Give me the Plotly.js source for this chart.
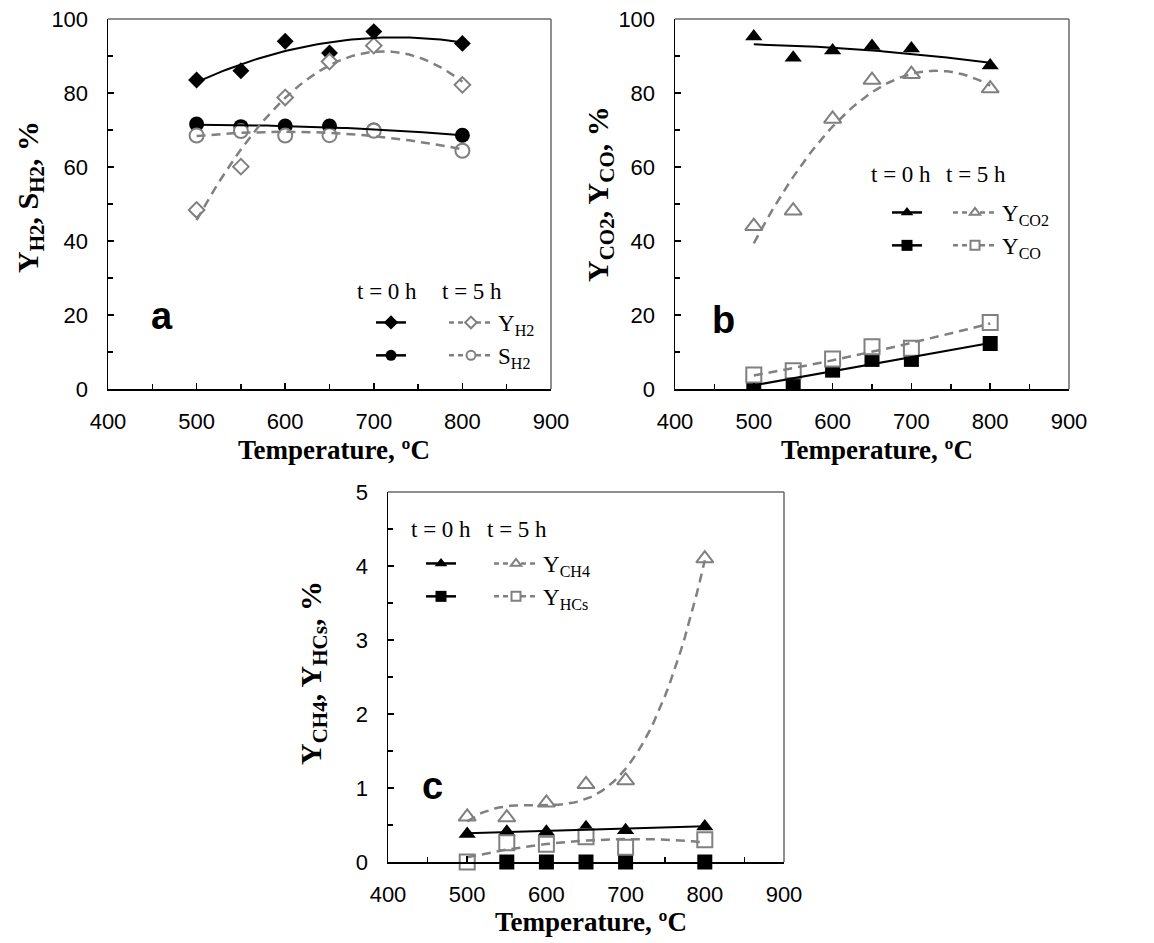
<!DOCTYPE html>
<html>
<head>
<meta charset="utf-8">
<script src="https://cdn.plot.ly/plotly-3.0.1.min.js"></script>
<style>html,body{margin:0;padding:0;background:#fff;}#chart{width:1154px;height:943px;}</style>
</head>
<body>
<div id="chart"></div>
<script>
// ---------------- data ----------------
const temps = [500, 550, 600, 650, 700, 800];
// panel a
const yH2_t0 = [83.5, 86.0, 94.0, 90.8, 96.6, 93.4];
const yH2_t5 = [48.4, 60.1, 78.8, 88.5, 92.8, 82.2];
const sH2_t0 = [71.6, 70.9, 71.1, 71.1, 70.0, 68.6];
const sH2_t5 = [68.5, 69.7, 68.5, 68.6, 69.8, 64.4];
// panel b
const yCO2_t0 = [95.3, 89.5, 91.5, 92.7, 92.0, 87.4];
const yCO2_t5 = [44.0, 48.2, 73.0, 83.5, 85.1, 81.2];
const yCO_t0 = [1.5, 1.5, 5.1, 8.0, 8.0, 12.3];
const yCO_t5 = [3.8, 4.9, 8.1, 11.4, 11.0, 18.0];
// panel c
const yCH4_t0 = [0.38, 0.41, 0.41, 0.47, 0.43, 0.48];
const yCH4_t5 = [0.61, 0.60, 0.80, 1.05, 1.10, 4.10];
const yHCs_t0 = [0, 0, 0, 0, 0, 0];
const yHCs_t5 = [0, 0.26, 0.24, 0.34, 0.20, 0.30];

const xTicks = [400, 500, 600, 700, 800, 900];
const legendHeaders = ['t = 0 h', 't = 5 h'];
const panelLetters = ['a', 'b', 'c'];

// ---------------- trendlines (least-squares polynomial fit, like spreadsheet trendlines) ----------------
function polyfit(xs, ys, order) {
  const n = order + 1;
  const A = Array.from({length: n}, () => new Array(n + 1).fill(0));
  xs.forEach((x, k) => {
    const u = (x - 650) / 100;
    for (let i = 0; i < n; i++) {
      for (let j = 0; j < n; j++) A[i][j] += Math.pow(u, i + j);
      A[i][n] += ys[k] * Math.pow(u, i);
    }
  });
  for (let c = 0; c < n; c++) {
    let p = c;
    for (let r = c + 1; r < n; r++) if (Math.abs(A[r][c]) > Math.abs(A[p][c])) p = r;
    [A[c], A[p]] = [A[p], A[c]];
    for (let r = 0; r < n; r++) {
      if (r === c) continue;
      const f = A[r][c] / A[c][c];
      for (let k = c; k <= n; k++) A[r][k] -= f * A[c][k];
    }
  }
  return A.map((row, i) => row[n] / row[i]);
}
function trend(xs, ys, order) {
  const co = polyfit(xs, ys, order);
  const xx = [], yy = [];
  const x0 = xs[0], x1 = xs[xs.length - 1];
  for (let s = 0; s <= 60; s++) {
    const x = x0 + (x1 - x0) * s / 60;
    const u = (x - 650) / 100;
    let v = 0;
    co.forEach((c, i) => { v += c * Math.pow(u, i); });
    xx.push(x); yy.push(v);
  }
  return {x: xx, y: yy};
}

// ---------------- geometry helpers ----------------
const W = 1154, H = 943;
const PX = p => p / W;
const PY = p => 1 - p / H;
const boxes = {
  a: {x0: 108, x1: 551, y0: 19, y1: 389},
  b: {x0: 675, x1: 1069, y0: 19, y1: 389},
  c: {x0: 388, x1: 784, y0: 492, y1: 862}
};

const GRAY = '#808080';
const DASH = '9px,6px';
const traces = [];

function addSeries(ax, ay, ys, symbol, open, order, legendT0, legendT5, name) {
  const mk = open
    ? {symbol: symbol, size: symbol === 'diamond' ? 12 : (symbol === 'circle' ? 14 : 15), color: '#ffffff', line: {color: GRAY, width: 2}}
    : {symbol: symbol, size: symbol === 'diamond' ? 13 : (symbol === 'circle' ? 15 : 15), color: '#000'};
  traces.push({x: temps, y: ys, xaxis: ax, yaxis: ay, type: 'scatter', mode: 'markers', marker: mk,
    showlegend: false, cliponaxis: false, hoverinfo: 'x+y', _order: open ? 1 : 0});
  if (order >= 0) {
    const tr = trend(temps, ys, order);
    traces.push({x: tr.x, y: tr.y, xaxis: ax, yaxis: ay, type: 'scatter', mode: 'lines',
      line: open ? {color: GRAY, width: 2.5, dash: DASH} : {color: '#000', width: 2},
      showlegend: false, cliponaxis: false, hoverinfo: 'skip', _order: 2});
  }
  // legend key (no data points)
  const lk = open
    ? {symbol: symbol, size: 9, color: '#fff', line: {color: GRAY, width: 2}}
    : {symbol: symbol, size: 11, color: '#000'};
  traces.push({x: [null], y: [null], xaxis: ax, yaxis: ay, type: 'scatter', mode: 'lines+markers', name: name,
    marker: lk, line: open ? {color: GRAY, width: 2.5, dash: '5px,4px'} : {color: '#000', width: 2.5},
    legend: open ? legendT5 : legendT0, showlegend: true, hoverinfo: 'skip', _order: 3});
}

// panel a
addSeries('x', 'y', yH2_t0, 'diamond', false, 2, 'legend', 'legend2', 'Y<sub>H2</sub>');
addSeries('x', 'y', sH2_t0, 'circle', false, 2, 'legend', 'legend2', 'S<sub>H2</sub>');
addSeries('x', 'y', yH2_t5, 'diamond', true, 2, 'legend', 'legend2', 'Y<sub>H2</sub>');
addSeries('x', 'y', sH2_t5, 'circle', true, 2, 'legend', 'legend2', 'S<sub>H2</sub>');
// panel b
addSeries('x2', 'y2', yCO2_t0, 'triangle-up', false, 2, 'legend3', 'legend4', 'Y<sub>CO2</sub>');
addSeries('x2', 'y2', yCO_t0, 'square', false, 1, 'legend3', 'legend4', 'Y<sub>CO</sub>');
addSeries('x2', 'y2', yCO2_t5, 'triangle-up', true, 2, 'legend3', 'legend4', 'Y<sub>CO2</sub>');
addSeries('x2', 'y2', yCO_t5, 'square', true, 2, 'legend3', 'legend4', 'Y<sub>CO</sub>');
// panel c
addSeries('x3', 'y3', yCH4_t0, 'triangle-up', false, 1, 'legend5', 'legend6', 'Y<sub>CH4</sub>');
addSeries('x3', 'y3', yHCs_t0, 'square', false, -1, 'legend5', 'legend6', 'Y<sub>HCs</sub>');
addSeries('x3', 'y3', yCH4_t5, 'triangle-up', true, 3, 'legend5', 'legend6', 'Y<sub>CH4</sub>');
addSeries('x3', 'y3', yHCs_t5, 'square', true, 2, 'legend5', 'legend6', 'Y<sub>HCs</sub>');

// draw order: black markers, open markers, lines, legend keys
traces.sort((p, q) => p._order - q._order);
traces.forEach(t => delete t._order);

// ---------------- axes ----------------
const tickFont = {family: 'Liberation Sans, Arial, sans-serif', size: 22, color: '#000'};
function xAxis(b, anchor) {
  return {domain: [PX(b.x0), PX(b.x1)], range: [400, 900], anchor: anchor, tickvals: xTicks,
    showline: true, linecolor: '#000', linewidth: 1.5, ticks: 'inside', ticklen: 6, tickwidth: 1.5, tickcolor: '#000',
    minor: {dtick: 50, ticks: 'inside', ticklen: 5, tickwidth: 1.5, tickcolor: '#000'},
    showgrid: false, zeroline: false, tickfont: tickFont, ticklabelstandoff: 12, fixedrange: true};
}
function yAxis(b, anchor, max, dt) {
  return {domain: [PY(b.y1), PY(b.y0)], range: [0, max], anchor: anchor, dtick: dt, tick0: 0,
    showline: true, linecolor: '#000', linewidth: 1.5, ticks: 'inside', ticklen: 6, tickwidth: 1.5, tickcolor: '#000',
    minor: {dtick: dt / 2, ticks: 'inside', ticklen: 5, tickwidth: 1.5, tickcolor: '#000'},
    showgrid: false, zeroline: false, tickfont: tickFont, ticklabelstandoff: 14, fixedrange: true};
}

const serif = 'Liberation Serif, Times New Roman, serif';
const arial = 'Liberation Sans, Arial, sans-serif';

function legendAt(px, py, hidden) {
  return {x: PX(px), y: PY(py), xanchor: 'left', yanchor: 'top', bgcolor: 'rgba(0,0,0,0)', borderwidth: 0,
    itemwidth: hidden ? 30 : 44, itemclick: false, itemdoubleclick: false,
    font: {family: serif, size: 23, color: hidden ? 'rgba(0,0,0,0)' : '#000'}};
}

const annotations = [];
function ann(text, px, py, size, family, extra) {
  annotations.push(Object.assign({text: text, x: PX(px), y: PY(py), xref: 'paper', yref: 'paper',
    showarrow: false, xanchor: 'center', yanchor: 'middle', font: {family: family, size: size, color: '#000'}}, extra || {}));
}
// panel letters
ann('<b>' + panelLetters[0] + '</b>', 162, 316, 38, arial);
ann('<b>' + panelLetters[1] + '</b>', 723, 320, 38, arial);
ann('<b>' + panelLetters[2] + '</b>', 432, 786, 38, arial);
// legend headers
ann(legendHeaders[0], 387, 291, 23, serif);
ann(legendHeaders[1], 472, 291, 23, serif);
ann(legendHeaders[0], 901, 174, 23, serif);
ann(legendHeaders[1], 976, 174, 23, serif);
ann(legendHeaders[0], 441, 529, 23, serif);
ann(legendHeaders[1], 517, 529, 23, serif);
// axis titles
const xTitle = '<b>Temperature, ºC</b>';
ann(xTitle, 334, 450, 27, serif);
ann(xTitle, 877, 450, 27, serif);
ann(xTitle, 591, 922, 27, serif);
ann('<b>Y<sub>H2</sub>, S<sub>H2</sub>, %</b>', 30, 197, 30, serif, {textangle: -90});
ann('<b>Y<sub>CO2</sub>, Y<sub>CO</sub>, %</b>', 600, 194, 30, serif, {textangle: -90});
ann('<b>Y<sub>CH4</sub>, Y<sub>HCs</sub>, %</b>', 313, 673, 30, serif, {textangle: -90});

// top/right frame lines (gray)
const shapes = [];
Object.values(boxes).forEach(b => {
  shapes.push({type: 'line', xref: 'paper', yref: 'paper', x0: PX(b.x0), x1: PX(b.x1), y0: PY(b.y0), y1: PY(b.y0), line: {color: '#6a6a6a', width: 1.5}});
  shapes.push({type: 'line', xref: 'paper', yref: 'paper', x0: PX(b.x1), x1: PX(b.x1), y0: PY(b.y0), y1: PY(b.y1), line: {color: '#6a6a6a', width: 1.5}});
});

const layout = {
  width: W, height: H, margin: {l: 0, r: 0, t: 0, b: 0},
  paper_bgcolor: '#fff', plot_bgcolor: '#fff',
  xaxis: xAxis(boxes.a, 'y'), yaxis: yAxis(boxes.a, 'x', 100, 20),
  xaxis2: xAxis(boxes.b, 'y2'), yaxis2: yAxis(boxes.b, 'x2', 100, 20),
  xaxis3: xAxis(boxes.c, 'y3'), yaxis3: yAxis(boxes.c, 'x3', 5, 1),
  legend: legendAt(371, 301, true), legend2: legendAt(444, 301, false),
  legend3: legendAt(887, 191, true), legend4: legendAt(948, 191, false),
  legend5: legendAt(421, 542, true), legend6: legendAt(489, 542, false),
  annotations: annotations, shapes: shapes, showlegend: true
};

Plotly.newPlot('chart', traces, layout, {displayModeBar: false, staticPlot: true});
</script>
</body>
</html>
